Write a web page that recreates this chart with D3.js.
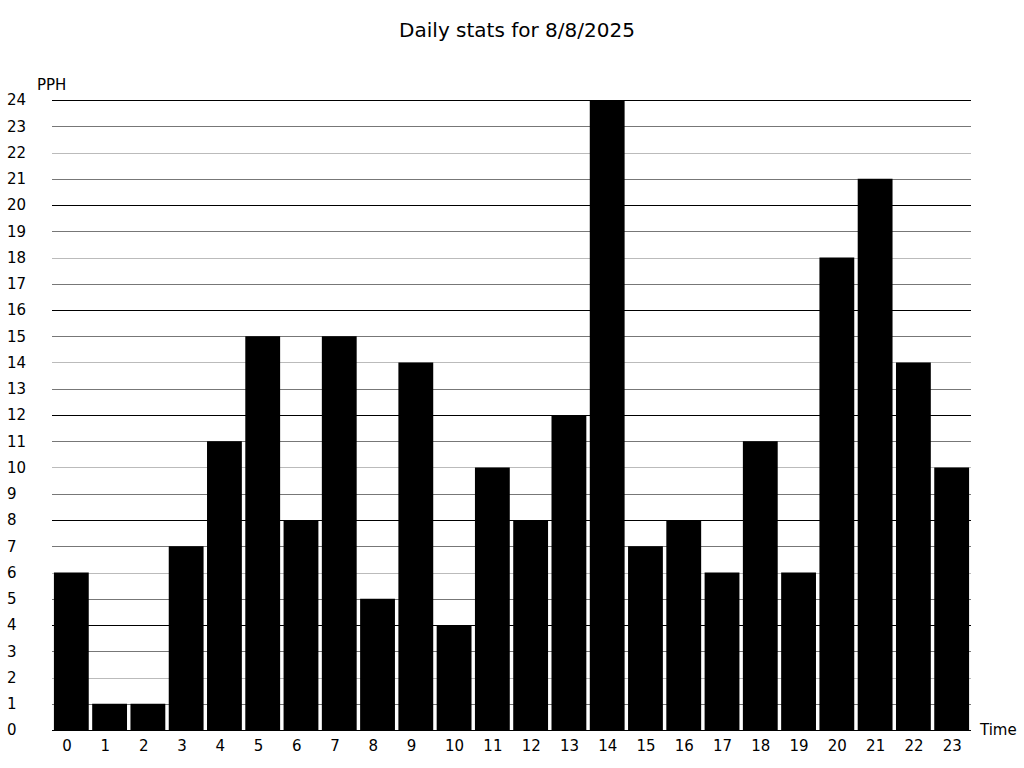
<!DOCTYPE html>
<html><head><meta charset="utf-8">
<script src="https://cdn.jsdelivr.net/npm/d3@7"></script>
<style>body{margin:0;background:#fff}svg{display:block}text{font-family:"DejaVu Sans",sans-serif}</style>
</head><body>
<svg id="c" width="1024" height="768"></svg>
<script>
const hours = d3.range(0,24).map(String);
const pph = [6,1,1,7,11,15,8,15,5,14,4,10,8,12,24,7,8,6,11,6,18,21,14,10];
const yTicks = d3.range(0,25);
const title = "Daily stats for 8/8/2025";
const yLabel = "PPH";
const xLabel = "Time";

const svg = d3.select("#c");
const pLeft = 52, pRight = 971, pTop = 100, pBottom = 730;
const x = d3.scaleBand().domain(hours).range([pLeft,pRight]).paddingInner(0.09).paddingOuter(0.05);
const y = d3.scaleLinear().domain([0,24]).range([pBottom,pTop]);

svg.append("text").attr("x",517).attr("y",37).attr("text-anchor","middle").attr("font-size",20).text(title);

const gridColor = v => v%4===0 ? "#000" : (v%2===0 ? "#bbb" : "#777");
svg.append("g").selectAll("line").data(yTicks).join("line")
  .attr("x1",pLeft).attr("x2",pRight)
  .attr("y1",d=>Math.round(y(d))+0.5).attr("y2",d=>Math.round(y(d))+0.5)
  .attr("stroke",gridColor).attr("stroke-width",1);

svg.append("g").selectAll("text").data(yTicks).join("text")
  .attr("x",7).attr("y",d=>y(d)).attr("dy","0.36em").attr("font-size",15).text(d=>d);

svg.append("g").selectAll("rect").data(pph).join("rect")
  .attr("x",(d,i)=>x(hours[i])).attr("width",x.bandwidth())
  .attr("y",d=>y(d)).attr("height",d=>y(0)-y(d)).attr("fill","#000");

svg.append("g").selectAll("text").data(hours).join("text")
  .attr("x",d=>x(d)+x.bandwidth()/2-9).attr("y",751).attr("font-size",15).text(d=>d);

svg.append("text").attr("x",37).attr("y",90).attr("font-size",15).text(yLabel);
svg.append("text").attr("x",980).attr("y",735).attr("font-size",15).text(xLabel);
</script>
</body></html>
